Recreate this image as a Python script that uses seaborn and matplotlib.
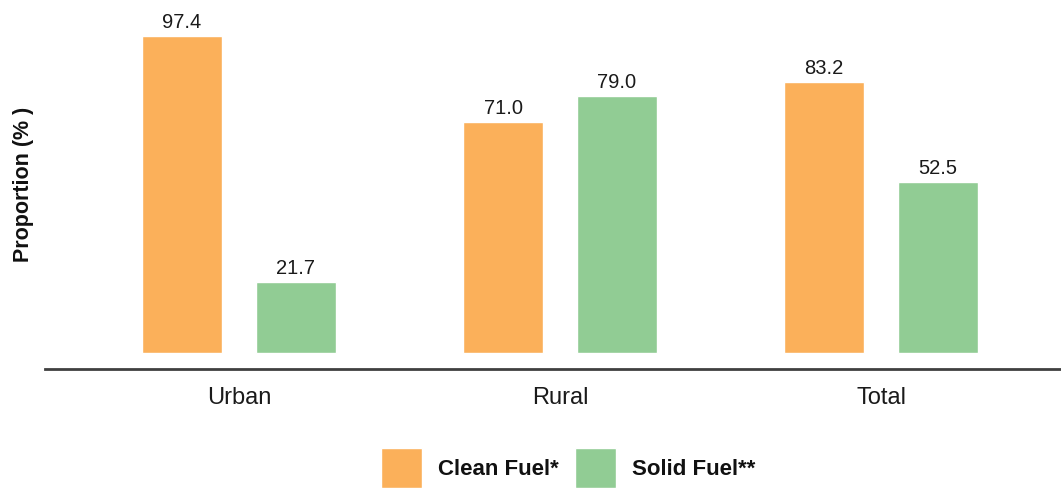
import matplotlib
matplotlib.use("Agg")
import matplotlib.pyplot as plt
import seaborn as sns
import pandas as pd

categories = ["Urban", "Rural", "Total"]
series_names = ["Clean Fuel*", "Solid Fuel**"]
clean_fuel = [97.4, 71.0, 83.2]
solid_fuel = [21.7, 79.0, 52.5]
colors = ["#FBB05A", "#91CC94"]

df = pd.DataFrame({
    "Area": categories * 2,
    "Fuel": [series_names[0]] * 3 + [series_names[1]] * 3,
    "Value": clean_fuel + solid_fuel,
})

sns.set_theme(style="white")
plt.rcParams["font.family"] = ["Liberation Sans", "DejaVu Sans"]

fig = plt.figure(figsize=(10.61, 4.88), dpi=100)
ax = fig.add_axes([45 / 1061, 1 - 369 / 488, 1016 / 1061, 369 / 488])

sns.barplot(data=df, x="Area", y="Value", hue="Fuel", order=categories,
            hue_order=series_names, palette=colors, width=0.71, gap=0.30,
            saturation=1, ax=ax, legend=True)

for c in ax.containers:
    ax.bar_label(c, fmt="%.1f", padding=3, fontsize=14.5, color="#1a1a1a")

ax.set_xlim(-0.604, 2.56)
ax.set_ylim(-4.92, 108.4)
for s in ["top", "right", "left"]:
    ax.spines[s].set_visible(False)
ax.spines["bottom"].set_color("#404040")
ax.spines["bottom"].set_linewidth(2)
ax.set_yticks([])
ax.set_xlabel("")
ax.set_ylabel("Proportion (% )", fontsize=15.5, fontweight="bold", color="#111111", labelpad=8)
ax.tick_params(axis="x", length=0, pad=13, labelsize=17, labelcolor="#1a1a1a")

handles, labels = ax.get_legend_handles_labels()
ax.get_legend().remove()
leg = fig.legend(handles, labels, loc="center", bbox_to_anchor=(568 / 1061, 20 / 488),
                 ncol=2, frameon=False, handlelength=1.85, handleheight=2.4,
                 handletextpad=0.7, columnspacing=0.75,
                 prop={"size": 16, "weight": "bold"})
for t in leg.get_texts():
    t.set_color("#111111")

fig.savefig("out.png", dpi=100)
